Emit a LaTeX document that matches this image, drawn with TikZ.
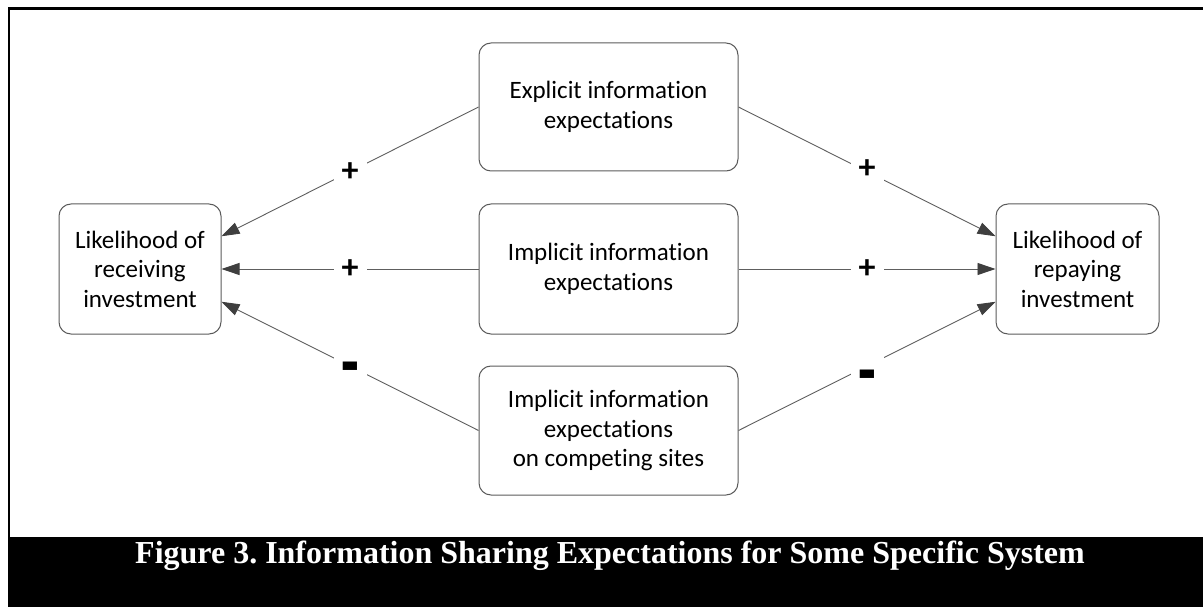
\documentclass[tikz,border=0pt]{standalone}
\usepackage{fontspec}
\setmainfont{Carlito}[Ligatures={NoCommon,NoRare}]
\newfontfamily\capfont{Liberation Serif}
\usetikzlibrary{arrows.meta,calc}
\definecolor{boxgray}{HTML}{5A5A5A}
\definecolor{linegray}{HTML}{5E5E5E}
\definecolor{tipgray}{HTML}{3F3F3F}
\newcommand{\bigminus}{\scalebox{1.7}[2.4]{-}}
\begin{document}
\frenchspacing
\begin{tikzpicture}[x=1pt,y=-1pt,
  box/.style={draw=boxgray, line width=1pt, rounded corners=12pt, align=center,
    font=\fontsize{25}{29.5}\selectfont, inner sep=0pt},
  conn/.style={draw=linegray, line width=0.9pt,
    -{Triangle[length=18pt,width=12pt,color=tipgray]}},
  sign/.style={fill=white, font=\fontsize{34}{34}\selectfont\bfseries,
    inner sep=0pt, minimum width=33pt, minimum height=28pt},
  gap/.style={fill=white, inner sep=0pt, minimum width=33pt, minimum height=28pt},
  signtext/.style={font=\fontsize{34}{34}\selectfont\bfseries, inner sep=0pt, anchor=center},
  frameline/.style={line width=2.6pt, black}]
\useasboundingbox (0,0) rectangle (1203,607);
% frame and caption bar
\draw[frameline] (9,540) -- (9,8.3) -- (1203,8.3);
\fill[black] (7.7,537) rectangle (1203,607);
\node[text=white, font=\capfont\bfseries\fontsize{32}{34}\selectfont] (cap) at (610,556)
  {Figure 3. Information Sharing Expectations for Some Specific System};
% boxes
\node[box, minimum width=259pt, minimum height=128pt] (top) at (608.5,107)
  {Explicit information\\expectations};
\node[box, minimum width=259pt, minimum height=130pt] (mid) at (608.5,269)
  {Implicit information\\expectations};
\node[box, minimum width=259pt, minimum height=129pt] (bot) at (608.5,430.5)
  {Implicit information\\expectations\\on competing sites};
\node[box, minimum width=162pt, minimum height=130pt] (left) at (140,269)
  {Likelihood of\\receiving\\investment};
\node[box, minimum width=163pt, minimum height=130pt] (right) at (1077.5,269)
  {Likelihood of\\repaying\\investment};
% attachment points
\coordinate (lu) at ($(left.north east)!0.25!(left.south east)$);
\coordinate (ll) at ($(left.north east)!0.75!(left.south east)$);
\coordinate (ru) at ($(right.north west)!0.25!(right.south west)$);
\coordinate (rl) at ($(right.north west)!0.75!(right.south west)$);
% connectors
\draw[conn] (top.west) -- node[sign] {+} (lu);
\draw[conn] (mid.west) -- node[sign] {+} (left.east);
\draw[conn] (bot.west) -- node[gap, label={[signtext, yshift=-10pt]center:\bigminus}] {} (ll);
\draw[conn] (top.east) -- node[gap, label={[signtext, yshift=3pt]center:+}] {} (ru);
\draw[conn] (mid.east) -- node[sign] {+} (right.west);
\draw[conn] (bot.east) -- node[gap, label={[signtext, yshift=-18pt]center:\bigminus}] {} (rl);
\end{tikzpicture}
\end{document}
